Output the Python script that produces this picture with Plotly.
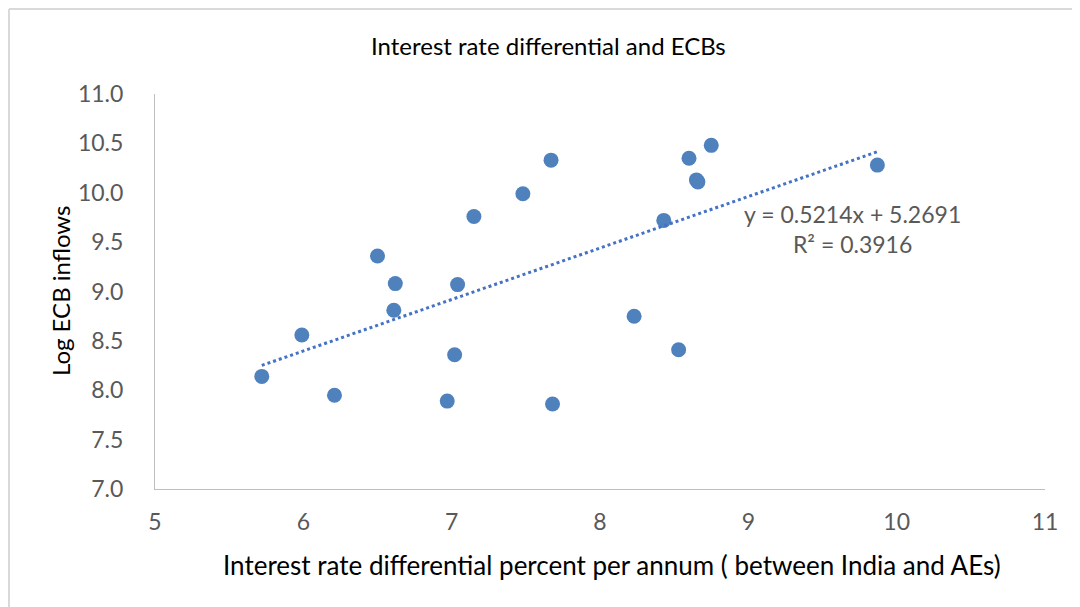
import plotly.graph_objects as go

# Data
rate_diff = [5.72, 5.99, 6.21, 6.50, 6.62, 6.61, 6.97, 7.02, 7.04, 7.15,
             7.48, 7.67, 7.68, 8.23, 8.43, 8.53, 8.60, 8.65, 8.66, 8.75, 9.87]
log_ecb = [8.14, 8.56, 7.95, 9.36, 9.08, 8.81, 7.89, 8.36, 9.07, 9.76,
           9.99, 10.33, 7.86, 8.75, 9.72, 8.41, 10.35, 10.13, 10.11, 10.48, 10.28]

slope = 0.5214
intercept = 5.2691
r2 = 0.3916
trend_x = [min(rate_diff), max(rate_diff)]
trend_y = [slope * v + intercept for v in trend_x]

x_ticks = [5, 6, 7, 8, 9, 10, 11]
y_ticks = [7.0, 7.5, 8.0, 8.5, 9.0, 9.5, 10.0, 10.5, 11.0]

FONT = "Lato"
GREY = "#595959"
BLUE = "#4F81BD"

# page body has an 8px margin; plot area target: x 155..1045, y 94..489
W, H = 1072, 599
ML, MT, MR, MB = 147, 86, 35, 118
PW = W - ML - MR
PH = H - MT - MB


def px(xpix):
    return (xpix - 155) / PW


def py(ypix):
    return (489 - ypix) / PH


fig = go.Figure()
fig.add_trace(go.Scatter(x=rate_diff, y=log_ecb, mode="markers",
                         marker=dict(size=15, color=BLUE), showlegend=False))
fig.add_trace(go.Scatter(x=trend_x, y=trend_y, mode="lines",
                         line=dict(color="#4472C4", width=3, dash="dot"),
                         showlegend=False))

fig.update_layout(
    width=W, height=H,
    margin=dict(l=ML, r=MR, t=MT, b=MB),
    paper_bgcolor="white", plot_bgcolor="white",
    font=dict(family=FONT, color=GREY, size=22),
    xaxis=dict(range=[5, 11], tickvals=x_ticks, ticktext=[str(v) for v in x_ticks],
               showgrid=False, zeroline=False, showline=True, linecolor="#BFBFBF",
               linewidth=1, ticks="", ticklabelstandoff=12,
               tickfont=dict(size=23, color=GREY)),
    yaxis=dict(range=[7, 11], tickvals=y_ticks, ticktext=[f"{v:.1f}" for v in y_ticks],
               showgrid=False, zeroline=False, showline=True, linecolor="#BFBFBF",
               linewidth=1, ticks="", ticklabelstandoff=26,
               tickfont=dict(size=23, color=GREY)),
)

fig.add_annotation(xref="paper", yref="paper", x=px(548), y=py(45),
                   text="Interest rate differential and ECBs",
                   showarrow=False, xanchor="center", yanchor="middle",
                   font=dict(size=24, color="#000000", family=FONT))
fig.add_annotation(xref="paper", yref="paper", x=px(612), y=py(565),
                   text="Interest rate differential percent per annum ( between India and AEs)",
                   showarrow=False, xanchor="center", yanchor="middle",
                   font=dict(size=26, color="#000000", family=FONT))
fig.add_annotation(xref="paper", yref="paper", x=px(60), y=py(291),
                   text="Log ECB inflows", textangle=-90,
                   showarrow=False, xanchor="center", yanchor="middle",
                   font=dict(size=24, color="#000000", family=FONT))
fig.add_annotation(xref="paper", yref="paper", x=px(852), y=py(229),
                   text=f"y = {slope}x + {intercept}<br>R² = {r2}",
                   showarrow=False, xanchor="center", yanchor="middle", align="center",
                   font=dict(size=23, color=GREY, family=FONT))

# chart border (top and left edges visible in the picture)
bx = px(9)
by = py(9)
fig.add_shape(type="line", xref="paper", yref="paper", x0=bx, x1=1.2, y0=by, y1=by,
              line=dict(color="#D9D9D9", width=2))
fig.add_shape(type="line", xref="paper", yref="paper", x0=bx, x1=bx, y0=by, y1=-0.5,
              line=dict(color="#D9D9D9", width=2))

fig.write_html("out.html")
